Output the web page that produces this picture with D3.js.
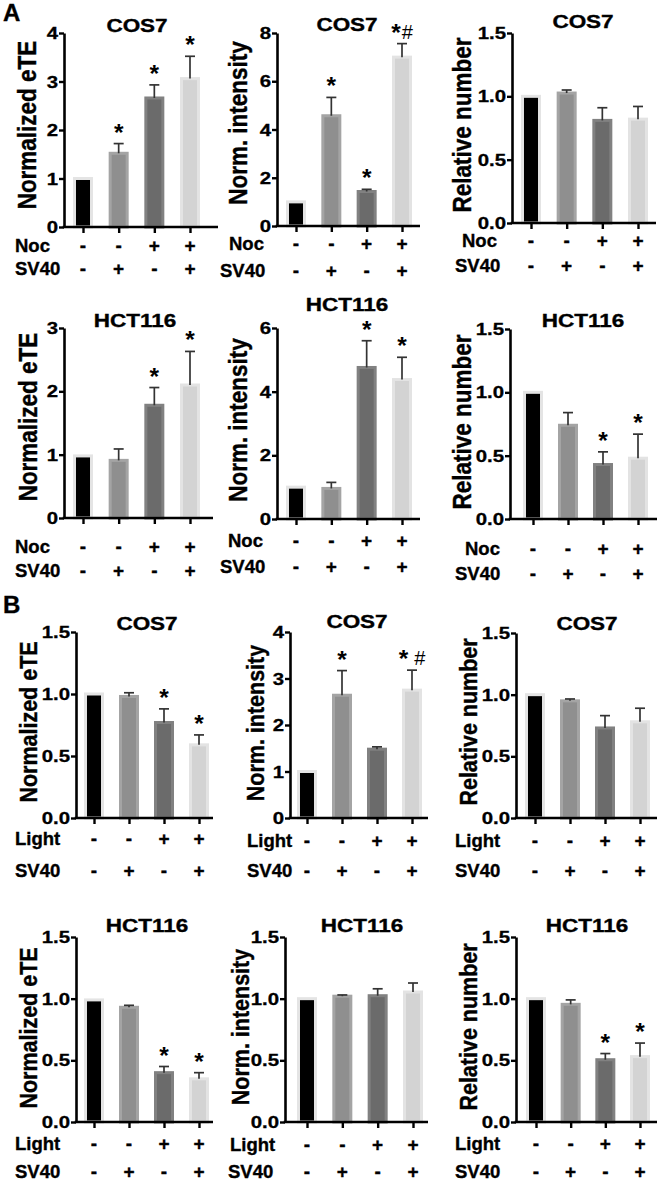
<!DOCTYPE html>
<html><head><meta charset="utf-8">
<script src="https://cdn.jsdelivr.net/npm/d3@7"></script>
<style>
body{margin:0;background:#fff}
svg{display:block}
text{font-family:"Liberation Sans",Arial,sans-serif;font-weight:bold;fill:#000}
text.heavy{stroke:#000;stroke-width:0.35}
</style>
</head><body>
<svg id="c" width="660" height="1183"></svg>
<script>
// ---------------- data ----------------
const groups = ["ctrl", "SV40", "treat", "treat+SV40"];
const rowLabelsA = ["Noc", "SV40"];
const rowLabelsB = ["Light", "SV40"];
const treatSigns = ["-", "-", "+", "+"];
const sv40Signs = ["-", "+", "-", "+"];
const panelTitles = ["COS7","COS7","COS7","HCT116","HCT116","HCT116","COS7","COS7","COS7","HCT116","HCT116","HCT116"];
const yTitles = ["Normalized eTE","Norm. intensity","Relative number","Normalized eTE","Norm. intensity","Relative number",
                 "Normalized eTE","Norm. intensity","Relative number","Normalized eTE","Norm. intensity","Relative number"];
const yMaxes = [4, 8, 1.5, 3, 6, 1.5, 1.5, 4, 1.5, 1.5, 1.5, 1.5];
const yTickSets = [[0,1,2,3,4],[0,2,4,6,8],[0,0.5,1,1.5],[0,1,2,3],[0,2,4,6],[0,0.5,1,1.5],
                   [0,0.5,1,1.5],[0,1,2,3,4],[0,0.5,1,1.5],[0,0.5,1,1.5],[0,0.5,1,1.5],[0,0.5,1,1.5]];
const yTickDecimals = [0,0,1,0,0,1,1,0,1,1,1,1];

const meanA_eTE_COS7 = [1.0, 1.52, 2.66, 3.06];   const errA_eTE_COS7 = [0, 0.20, 0.27, 0.46];   const sigA_eTE_COS7 = ["","*","*","*"];
const meanA_int_COS7 = [1.0, 4.57, 1.43, 7.0];    const errA_int_COS7 = [0, 0.76, 0.09, 0.56];   const sigA_int_COS7 = ["","*","*","*#"];
const meanA_num_COS7 = [1.0, 1.026, 0.81, 0.82];  const errA_num_COS7 = [0, 0.024, 0.10, 0.10];  const sigA_num_COS7 = ["","","",""];
const meanA_eTE_HCT = [0.98, 0.91, 1.78, 2.10];   const errA_eTE_HCT = [0, 0.18, 0.28, 0.53];    const sigA_eTE_HCT = ["","","*","*"];
const meanA_int_HCT = [1.0, 0.96, 4.76, 4.38];    const errA_int_HCT = [0, 0.19, 0.84, 0.70];    const sigA_int_HCT = ["","","*","*"];
const meanA_num_HCT = [1.0, 0.74, 0.43, 0.48];    const errA_num_HCT = [0, 0.10, 0.10, 0.19];    const sigA_num_HCT = ["","","*","*"];
const meanB_eTE_COS7 = [1.0, 0.98, 0.77, 0.59];   const errB_eTE_COS7 = [0, 0.03, 0.11, 0.08];   const sigB_eTE_COS7 = ["","","*","*"];
const meanB_int_COS7 = [1.0, 2.64, 1.48, 2.75];   const errB_int_COS7 = [0, 0.53, 0.05, 0.43];   const sigB_int_COS7 = ["","*","","* #"];
const meanB_num_COS7 = [1.0, 0.95, 0.73, 0.78];   const errB_num_COS7 = [0, 0.015, 0.10, 0.11];  const sigB_num_COS7 = ["","","",""];
const meanB_eTE_HCT = [0.99, 0.93, 0.40, 0.35];   const errB_eTE_HCT = [0, 0.016, 0.05, 0.05];   const sigB_eTE_HCT = ["","","*","*"];
const meanB_int_HCT = [1.0, 1.02, 1.024, 1.054];  const errB_int_HCT = [0, 0.01, 0.056, 0.073];  const sigB_int_HCT = ["","","",""];
const meanB_num_HCT = [1.0, 0.954, 0.505, 0.53];  const errB_num_HCT = [0, 0.036, 0.05, 0.11];   const sigB_num_HCT = ["","","*","*"];

const allMeans = [meanA_eTE_COS7, meanA_int_COS7, meanA_num_COS7, meanA_eTE_HCT, meanA_int_HCT, meanA_num_HCT,
                  meanB_eTE_COS7, meanB_int_COS7, meanB_num_COS7, meanB_eTE_HCT, meanB_int_HCT, meanB_num_HCT];
const allErrs = [errA_eTE_COS7, errA_int_COS7, errA_num_COS7, errA_eTE_HCT, errA_int_HCT, errA_num_HCT,
                 errB_eTE_COS7, errB_int_COS7, errB_num_COS7, errB_eTE_HCT, errB_int_HCT, errB_num_HCT];
const allSigs = [sigA_eTE_COS7, sigA_int_COS7, sigA_num_COS7, sigA_eTE_HCT, sigA_int_HCT, sigA_num_HCT,
                 sigB_eTE_COS7, sigB_int_COS7, sigB_num_COS7, sigB_eTE_HCT, sigB_int_HCT, sigB_num_HCT];

// ---------------- layout / style ----------------
const layout = [
 {ax:64,  x0:83,  x3:190, xEnd:218, yb:227,  yt:33,  tx:137, ty:32,   lx:27,  ly:125,  rx1:15,  rx2:15,  r1:252,  r2:275},
 {ax:277, x0:296, x3:402, xEnd:420, yb:226,  yt:33,  tx:347, ty:31,   lx:238, ly:123,  rx1:229, rx2:220, r1:250,  r2:277},
 {ax:512, x0:531, x3:638, xEnd:656, yb:223,  yt:33,  tx:583, ty:28,   lx:462, ly:125,  rx1:462, rx2:455, r1:247,  r2:272},
 {ax:64,  x0:83,  x3:190, xEnd:213, yb:518,  yt:328, tx:135, ty:327,  lx:28,  ly:417,  rx1:15,  rx2:15,  r1:553,  r2:577},
 {ax:277, x0:296, x3:402, xEnd:420, yb:519,  yt:328, tx:347, ty:311,  lx:238, ly:420,  rx1:228, rx2:220, r1:547,  r2:573},
 {ax:510, x0:533, x3:638, xEnd:657, yb:519,  yt:329, tx:583, ty:327,  lx:462, ly:422,  rx1:465, rx2:455, r1:555,  r2:580},
 {ax:76,  x0:94,  x3:199, xEnd:213, yb:818,  yt:632, tx:147, ty:630,  lx:28,  ly:722,  rx1:15,  rx2:15,  r1:845,  r2:877},
 {ax:290, x0:307, x3:412, xEnd:428, yb:818,  yt:632, tx:357, ty:628,  lx:255, ly:723,  rx1:247, rx2:247, r1:847,  r2:877},
 {ax:516, x0:535, x3:640, xEnd:657, yb:818,  yt:633, tx:587, ty:630,  lx:468, ly:722,  rx1:455, rx2:455, r1:847,  r2:877},
 {ax:76,  x0:94,  x3:199, xEnd:213, yb:1122, yt:937, tx:147, ty:932,  lx:28,  ly:1028, rx1:15,  rx2:15,  r1:1150, r2:1178},
 {ax:285, x0:307, x3:413, xEnd:428, yb:1122, yt:937, tx:362, ty:932,  lx:240, ly:1027, rx1:230, rx2:228, r1:1151, r2:1178},
 {ax:516, x0:536, x3:640, xEnd:657, yb:1122, yt:937, tx:587, ty:932,  lx:468, ly:1027, rx1:455, rx2:455, r1:1150, r2:1178}
];
const barFill = ["#000000", "#8f8f8f", "#6b6b6b", "#d3d3d3"];
const barStroke = ["#e4e4e4", "#a4a4a4", "#818181", "#e3e3e3"];

const svg = d3.select("#c");

svg.append("text").attr("class", "heavy").attr("x", 3).attr("y", 21).attr("font-size", 24).text("A");
svg.append("text").attr("class", "heavy").attr("x", 3).attr("y", 613).attr("font-size", 24).text("B");

layout.forEach((L, i) => {
  const g = svg.append("g");
  const x = d3.scalePoint().domain(groups).range([L.x0, L.x3]);
  const y = d3.scaleLinear().domain([0, yMaxes[i]]).range([L.yb, L.yt]);
  const means = allMeans[i], errs = allErrs[i], sigs = allSigs[i];
  const rows = i < 6 ? rowLabelsA : rowLabelsB;

  // bars
  g.selectAll("rect.bar").data(groups).enter().append("rect")
    .attr("x", d => x(d) - 8.5).attr("width", 17)
    .attr("y", (d, k) => y(means[k]))
    .attr("height", (d, k) => y(0) - y(means[k]))
    .attr("fill", (d, k) => barFill[k])
    .attr("stroke", (d, k) => barStroke[k]).attr("stroke-width", 3);

  // error bars (upper only)
  groups.forEach((d, k) => {
    if (errs[k] <= 0) return;
    const cx = x(d), top = y(means[k] + errs[k]);
    g.append("line").attr("x1", cx).attr("x2", cx).attr("y1", y(means[k])).attr("y2", top)
      .attr("stroke", "#333").attr("stroke-width", 1.7);
    g.append("line").attr("x1", cx - 5).attr("x2", cx + 5).attr("y1", top).attr("y2", top)
      .attr("stroke", "#333").attr("stroke-width", 1.7);
  });

  // significance marks
  groups.forEach((d, k) => {
    const s = sigs[k];
    if (!s) return;
    const top = y(means[k] + errs[k]);
    const t = g.append("text").attr("x", x(d)).attr("y", top - 3).attr("text-anchor", "middle").attr("font-size", 24.5);
    if (s.indexOf("#") >= 0) {
      t.append("tspan").text("*");
      t.append("tspan").attr("font-weight", "normal").attr("font-size", 20).attr("dx", s.indexOf(" ") >= 0 ? 6 : 1).attr("dy", -2).text("#");
    } else {
      t.text(s);
    }
  });

  // y axis
  const fmt = d3.format("." + yTickDecimals[i] + "f");
  const ya = g.append("g").attr("transform", `translate(${L.ax},0)`)
    .call(d3.axisLeft(y).tickValues(yTickSets[i]).tickFormat(fmt).tickSize(5).tickSizeOuter(0));
  ya.select(".domain").attr("stroke", "#000").attr("stroke-width", 2.6);
  ya.selectAll(".tick line").attr("stroke", "#000").attr("stroke-width", 2.4);
  ya.selectAll(".tick text").attr("x", null).attr("dy", null)
    .attr("transform", "translate(-6,5.5) scale(1.2,1)")
    .attr("font-size", 17).attr("font-family", "'Liberation Sans',Arial,sans-serif").attr("font-weight", "bold")
    .attr("fill", "#000").attr("stroke", "#000").attr("stroke-width", 0.3).attr("text-anchor", "end");

  // x axis
  const xa = g.append("g").attr("transform", `translate(0,${L.yb})`)
    .call(d3.axisBottom(x).tickSize(6).tickSizeOuter(0).tickFormat(""));
  xa.select(".domain").remove();
  xa.selectAll(".tick line").attr("stroke", "#000").attr("stroke-width", 2.4);
  g.append("line").attr("x1", L.ax - 1.3).attr("x2", L.xEnd).attr("y1", L.yb).attr("y2", L.yb)
    .attr("stroke", "#000").attr("stroke-width", 2.6);

  // title
  g.append("text").attr("class", "heavy").attr("transform", `translate(${L.tx},${L.ty}) scale(1.25,1)`)
    .attr("text-anchor", "middle").attr("font-size", 18).text(panelTitles[i]);

  // y label
  g.append("text").attr("class", "heavy").attr("transform", `translate(${L.lx},${L.ly}) scale(1.15,1) rotate(-90)`)
    .attr("text-anchor", "middle").attr("dominant-baseline", "central")
    .attr("font-size", i < 6 ? 22.5 : 21.5).text(yTitles[i]);

  // treatment rows
  g.append("text").attr("class", "heavy").attr("x", L.rx1).attr("y", L.r1).attr("font-size", 18.5).text(rows[0]);
  g.append("text").attr("class", "heavy").attr("x", L.rx2).attr("y", L.r2).attr("font-size", 18.5).text(rows[1]);
  g.selectAll("text.s1").data(groups).enter().append("text").attr("class", "heavy")
    .attr("x", d => x(d)).attr("y", L.r1).attr("text-anchor", "middle").attr("font-size", 19)
    .text((d, k) => treatSigns[k]);
  g.selectAll("text.s2").data(groups).enter().append("text").attr("class", "heavy")
    .attr("x", d => x(d)).attr("y", L.r2).attr("text-anchor", "middle").attr("font-size", 19)
    .text((d, k) => sv40Signs[k]);
});
</script>
</body></html>
